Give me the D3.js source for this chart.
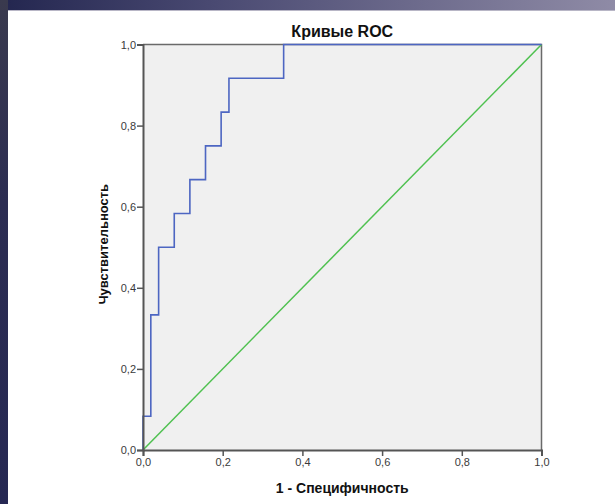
<!DOCTYPE html>
<html>
<head>
<meta charset="utf-8">
<script src="https://cdn.jsdelivr.net/npm/d3@7"></script>
<style>
html,body{margin:0;padding:0;background:#fff;}
svg{display:block;}
</style>
</head>
<body>
<svg id="chart" width="615" height="504"></svg>
<script>
// ROC curve vertices (1 - specificity, sensitivity)
const fpr = [0, 0, 1/51, 1/51, 2/51, 2/51, 4/51, 4/51, 6/51, 6/51, 8/51, 8/51, 10/51, 10/51, 11/51, 11/51, 18/51, 18/51, 1];
const tpr = [0, 1/12, 1/12, 4/12, 4/12, 6/12, 6/12, 7/12, 7/12, 8/12, 8/12, 9/12, 9/12, 10/12, 10/12, 11/12, 11/12, 1, 1];
// reference diagonal
const refX = [0, 1];
const refY = [0, 1];
const tickValues = [0, 0.2, 0.4, 0.6, 0.8, 1.0];
const title = "Кривые ROC";
const xTitle = "1 - Специфичность";
const yTitle = "Чувствительность";

const svg = d3.select("#chart");
const W = 615, H = 504;

// slide background
const defs = svg.append("defs");
const gTop = defs.append("linearGradient").attr("id","topband").attr("x1","0").attr("x2","1").attr("y1","0").attr("y2","0");
gTop.append("stop").attr("offset","0").attr("stop-color","#23264f");
gTop.append("stop").attr("offset","0.35").attr("stop-color","#4a4a72");
gTop.append("stop").attr("offset","1").attr("stop-color","#8f8ba6");
const gLeft = defs.append("linearGradient").attr("id","leftband").attr("x1","0").attr("x2","0").attr("y1","0").attr("y2","1");
gLeft.append("stop").attr("offset","0").attr("stop-color","#3a3a4e");
gLeft.append("stop").attr("offset","0.4").attr("stop-color","#2c2d52");
gLeft.append("stop").attr("offset","1").attr("stop-color","#262853");

svg.append("rect").attr("x",0).attr("y",0).attr("width",W).attr("height",H).attr("fill","#fff");
svg.append("rect").attr("x",0).attr("y",0).attr("width",W).attr("height",10).attr("fill","url(#topband)");
svg.append("rect").attr("x",0).attr("y",0).attr("width",8).attr("height",H).attr("fill","url(#leftband)");
svg.append("line").attr("x1",8).attr("x2",W).attr("y1",10.5).attr("y2",10.5).attr("stroke","#b8b6c6").attr("stroke-width",1);

const x0 = 143, x1 = 541.5, y0 = 450, y1 = 44.5;
const x = d3.scaleLinear().domain([0,1]).range([x0, x1]);
const y = d3.scaleLinear().domain([0,1]).range([y0, y1]);

// plot background
svg.append("rect").attr("x",x0).attr("y",y1).attr("width",x1-x0).attr("height",y0-y1).attr("fill","#f0f0f0");

// frame top/right
svg.append("path")
  .attr("d", `M${x0},${y1}H${x1}V${y0}`)
  .attr("fill","none").attr("stroke","#6a6a6a").attr("stroke-width",1.5);

// diagonal
const line = d3.line().x(d=>x(d[0])).y(d=>y(d[1]));
svg.append("path")
  .datum(refX.map((v,i)=>[v, refY[i]]))
  .attr("d", line)
  .attr("fill","none").attr("stroke","#4fc150").attr("stroke-width",1.5);

// ROC curve
svg.append("path")
  .datum(fpr.map((v,i)=>[v, tpr[i]]))
  .attr("d", line)
  .attr("fill","none").attr("stroke","#4d66c2").attr("stroke-width",1.6);

const fmt = d => d3.format(".1f")(d).replace(".", ",");

// x axis
const xAxis = svg.append("g").attr("transform",`translate(0,${y0})`)
  .call(d3.axisBottom(x).tickValues(tickValues).tickFormat(fmt).tickSize(6).tickPadding(2));
// y axis
const yAxis = svg.append("g").attr("transform",`translate(${x0},0)`)
  .call(d3.axisLeft(y).tickValues(tickValues).tickFormat(fmt).tickSize(6).tickPadding(1));

[xAxis, yAxis].forEach(a => {
  a.select(".domain").attr("stroke","#555").attr("stroke-width",2);
  a.selectAll(".tick line").attr("stroke","#555").attr("stroke-width",1.5);
  a.selectAll(".tick text").attr("fill","#3a3a3a")
    .style("font-family","Liberation Sans, Arial, sans-serif").style("font-size","11px");
});
yAxis.selectAll(".tick text").attr("dy","0.35em");

// titles
svg.append("text").attr("x",(x0+x1)/2).attr("y",37)
  .attr("text-anchor","middle")
  .style("font-family","Liberation Sans, Arial, sans-serif").style("font-size","16px").style("font-weight","bold")
  .attr("fill","#111").text(title);

svg.append("text").attr("x",(x0+x1)/2).attr("y",493)
  .attr("text-anchor","middle")
  .style("font-family","Liberation Sans, Arial, sans-serif").style("font-size","14px").style("font-weight","bold")
  .attr("fill","#111").text(xTitle);

svg.append("text")
  .attr("transform",`translate(108,${(y0+y1)/2 - 3}) rotate(-90)`)
  .attr("text-anchor","middle")
  .style("font-family","Liberation Sans, Arial, sans-serif").style("font-size","13px").style("font-weight","bold")
  .attr("fill","#111").text(yTitle);
</script>
</body>
</html>
